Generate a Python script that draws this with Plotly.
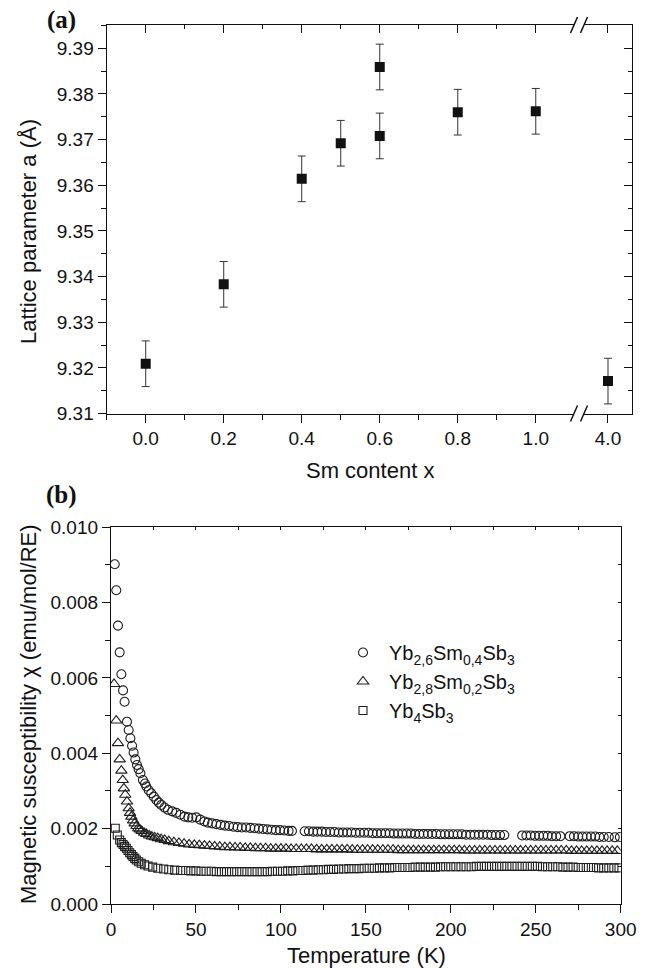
import plotly.graph_objects as go

# ---- panel (a): lattice parameter vs Sm content ----
sm_x = [0.0, 0.2, 0.4, 0.5, 0.6, 0.6, 0.8, 1.0]
lattice_a = [9.3209, 9.3383, 9.3614, 9.3692, 9.3859, 9.3708, 9.3760, 9.3762]
lattice_err = [0.005, 0.005, 0.005, 0.005, 0.005, 0.005, 0.005, 0.005]
# point beyond the axis break
sm_x_far = [4.0]
lattice_a_far = [9.3171]
lattice_err_far = [0.005]

# ---- panel (b): susceptibility vs temperature ----
T_circ = [2.2, 3.1, 4.1, 5.1, 6.1, 7.1, 8.0, 9.4, 10.4, 11.4,
          12.4, 13.3, 14.3, 15.3, 16.3, 17.3, 18.8, 20.0, 20.8, 22.2,
          23.7, 25.2, 26.7, 28.2, 29.6, 31.5, 33.5, 36.0, 38.4, 40.8,
          43.3, 45.5, 47.8, 50.2, 52.5, 55.0, 57.0, 59.5, 62.0, 64.5,
          67.0, 69.5, 72.0, 74.5, 77.0, 79.5, 82.0, 84.5, 87.0, 89.5,
          92.0, 94.5, 97.0, 99.5, 102.0, 104.5, 106.5,
          114.0, 116.5, 119.0, 121.5, 124.0, 126.5, 129.0, 131.5, 134.0, 136.5,
          139.0, 141.5, 144.0, 146.5, 149.0, 151.5, 154.0, 156.5, 159.0, 161.5,
          164.0, 166.5, 169.0, 171.5, 174.0, 176.5, 179.0, 181.5, 184.0, 186.5,
          189.0, 191.5, 194.0, 196.5, 199.0, 201.5, 204.0, 206.5, 209.0, 211.5,
          214.0, 216.5, 219.0, 221.5, 224.0, 226.5, 229.0, 231.5,
          242.0, 244.5, 247.0, 249.5, 252.0, 254.5, 257.0, 259.5, 262.0, 264.5,
          270.0, 272.5, 275.0, 277.5, 280.0, 282.5, 285.0, 287.5, 290.0, 293.0,
          296.5, 299.5]
chi_circ = [0.00902, 0.00833, 0.00739, 0.00668, 0.00610, 0.00567, 0.00537, 0.00484, 0.00462, 0.00440,
            0.00420, 0.00402, 0.00384, 0.00369, 0.00358, 0.00347, 0.00329, 0.00320, 0.00312, 0.00302,
            0.00294, 0.00285, 0.00276, 0.00269, 0.00263, 0.00256, 0.00250, 0.00246, 0.00242, 0.00237,
            0.00232, 0.00230, 0.00229, 0.00230, 0.00224, 0.00219, 0.00216, 0.00214, 0.00212, 0.00210,
            0.00208, 0.00207, 0.00205, 0.00204, 0.00203, 0.00203, 0.00202, 0.00201, 0.00200, 0.00199,
            0.00198, 0.00197, 0.00196, 0.00196, 0.00195, 0.00194, 0.00194,
            0.00193, 0.00193, 0.00192, 0.00192, 0.00192, 0.00191, 0.00191, 0.00191, 0.00190, 0.00190,
            0.00190, 0.00190, 0.00189, 0.00189, 0.00189, 0.00189, 0.00188, 0.00188, 0.00188, 0.00188,
            0.00188, 0.00187, 0.00187, 0.00187, 0.00187, 0.00187, 0.00186, 0.00186, 0.00186, 0.00186,
            0.00186, 0.00186, 0.00185, 0.00185, 0.00185, 0.00185, 0.00185, 0.00185, 0.00184, 0.00184,
            0.00184, 0.00184, 0.00184, 0.00184, 0.00183, 0.00183, 0.00183, 0.00183,
            0.00182, 0.00182, 0.00182, 0.00181, 0.00181, 0.00181, 0.00181, 0.00180, 0.00180, 0.00180,
            0.00180, 0.00180, 0.00179, 0.00179, 0.00179, 0.00179, 0.00179, 0.00178, 0.00178, 0.00178,
            0.00177, 0.00178]

T_tri = [1.8, 3.1, 4.1, 5.1, 6.1, 6.9, 7.6, 8.4, 9.4, 10.4,
         11.2, 12.0, 13.0, 13.9, 15.0, 16.0, 16.9, 18.0, 19.5, 20.8,
         22.5, 24.0, 25.7, 27.5, 29.5, 31.6, 34.0, 37.0, 40.0,
         43, 46, 49, 52, 55, 58, 61, 64, 67, 70,
         73, 76, 79, 82, 85, 88, 91, 94, 97, 100,
         103, 106, 109, 112, 115, 118, 121, 124, 127, 130,
         133, 136, 139, 142, 145, 148, 151, 154, 157, 160,
         163, 166, 169, 172, 175, 178, 181, 184, 187, 190,
         193, 196, 199, 202, 205, 208, 211, 214, 217, 220,
         223, 226, 229, 232, 235, 238, 241, 244, 247, 250,
         253, 256, 259, 262, 265, 268, 271, 274, 277, 280,
         283, 286, 289, 292, 295, 298]
chi_tri = [0.00584, 0.00487, 0.00427, 0.00384, 0.00354, 0.00329, 0.00307, 0.00290, 0.00272, 0.00254,
           0.00242, 0.00232, 0.00222, 0.00214, 0.00207, 0.00201, 0.00198, 0.00194, 0.00189, 0.00186,
           0.00182, 0.00179, 0.00177, 0.00175, 0.00172, 0.00170, 0.00167, 0.00164, 0.00162,
           0.00160, 0.00158, 0.00157, 0.00156, 0.00155, 0.00154, 0.00153, 0.00152, 0.00151, 0.00151,
           0.00150, 0.00150, 0.00149, 0.00149, 0.00148, 0.00148, 0.00148, 0.00147, 0.00147, 0.00147,
           0.00147, 0.00146, 0.00146, 0.00146, 0.00146, 0.00146, 0.00145, 0.00145, 0.00145, 0.00145,
           0.00145, 0.00145, 0.00145, 0.00144, 0.00144, 0.00144, 0.00144, 0.00144, 0.00144, 0.00144,
           0.00144, 0.00144, 0.00143, 0.00143, 0.00143, 0.00143, 0.00143, 0.00143, 0.00143, 0.00143,
           0.00143, 0.00143, 0.00143, 0.00143, 0.00143, 0.00142, 0.00142, 0.00142, 0.00142, 0.00142,
           0.00142, 0.00142, 0.00142, 0.00142, 0.00142, 0.00142, 0.00142, 0.00142, 0.00142, 0.00142,
           0.00142, 0.00142, 0.00142, 0.00142, 0.00142, 0.00142, 0.00141, 0.00141, 0.00141, 0.00141,
           0.00141, 0.00141, 0.00141, 0.00141, 0.00141, 0.00141]

T_sq = [2.5, 3.7, 5.1, 6.1, 7.1, 8.0, 9.0, 10.0, 11.0, 12.0,
        12.9, 14.0, 14.9, 16.3, 17.8, 19.8, 21.8, 24.5, 27.6, 31.0,
        34.0, 37.5, 41.0, 44.0, 47.0, 50.0,
        53, 56, 59, 62, 65, 68, 71, 74, 77, 80,
        83, 86, 89, 92, 95, 98, 101, 104, 107, 110,
        113, 116, 119, 122, 125, 128, 131, 134, 137, 140,
        143, 146, 149, 152, 155, 158, 161, 164, 167, 170,
        173, 176, 179, 182, 185, 188, 191, 194, 197, 200,
        203, 206, 209, 212, 215, 218, 221, 224, 227, 230,
        233, 236, 239, 242, 245, 248, 251, 254, 257, 260,
        263, 266, 269, 272, 275, 278, 281, 284, 287, 290,
        293, 296, 299]
chi_sq = [0.00201, 0.00183, 0.00170, 0.00163, 0.00158, 0.00153, 0.00148, 0.00142, 0.00136, 0.00131,
          0.00126, 0.00121, 0.00117, 0.00112, 0.00108, 0.00104, 0.00101, 0.00098, 0.00095, 0.00093,
          0.00091, 0.00090, 0.00089, 0.00089, 0.00088, 0.00088,
          0.00087, 0.00087, 0.00087, 0.00086, 0.00086, 0.00086, 0.00086, 0.00086, 0.00086, 0.00086,
          0.00086, 0.00086, 0.00086, 0.00086, 0.00087, 0.00087, 0.00087, 0.00088, 0.00088, 0.00089,
          0.00089, 0.00090, 0.00090, 0.00091, 0.00091, 0.00092, 0.00092, 0.00093, 0.00093, 0.00094,
          0.00094, 0.00094, 0.00095, 0.00095, 0.00095, 0.00096, 0.00096, 0.00096, 0.00097, 0.00097,
          0.00097, 0.00097, 0.00098, 0.00098, 0.00098, 0.00098, 0.00098, 0.00099, 0.00099, 0.00099,
          0.00099, 0.00099, 0.00099, 0.00099, 0.00100, 0.00100, 0.00100, 0.00100, 0.00100, 0.00100,
          0.00100, 0.00100, 0.00100, 0.00100, 0.00100, 0.00100, 0.00100, 0.00099, 0.00099, 0.00099,
          0.00099, 0.00098, 0.00098, 0.00098, 0.00097, 0.00097, 0.00097, 0.00097, 0.00096, 0.00096,
          0.00096, 0.00096, 0.00096]

names = ["Yb<sub>2,6</sub>Sm<sub>0,4</sub>Sb<sub>3</sub>",
         "Yb<sub>2,8</sub>Sm<sub>0,2</sub>Sb<sub>3</sub>",
         "Yb<sub>4</sub>Sb<sub>3</sub>"]

W, H = 654, 968
FONT = "Liberation Sans, Arial, sans-serif"
INK = "#111111"


def fx(p):  # pixel -> paper x
    return p / W


def fy(p):  # pixel -> paper y
    return 1 - p / H


fig = go.Figure()

err_style = dict(type="data", color="#333333", thickness=1, width=4)
sq_marker = dict(symbol="square", size=10, color=INK)

fig.add_trace(go.Scatter(x=sm_x, y=lattice_a, mode="markers", marker=sq_marker,
                         error_y=dict(array=lattice_err, **err_style),
                         xaxis="x", yaxis="y", showlegend=False))
fig.add_trace(go.Scatter(x=sm_x_far, y=lattice_a_far, mode="markers", marker=sq_marker,
                         error_y=dict(array=lattice_err_far, **err_style),
                         xaxis="x3", yaxis="y", showlegend=False))

series = [(T_circ, chi_circ, "circle-open", 9),
          (T_tri, chi_tri, "triangle-up-open", 10),
          (T_sq, chi_sq, "square-open", 8)]
for (t, chi, sym, size), name in zip(series, names):
    fig.add_trace(go.Scatter(x=t, y=chi, mode="markers", name=name, legendgroup=name,
                             marker=dict(symbol=sym, size=size, color="#1e1e1e",
                                         line=dict(width=1.1, color="#1e1e1e")),
                             xaxis="x2", yaxis="y2"))

# empty traces so the inward-tick overlay axes get drawn
for xa, ya in [("x4", "y"), ("x5", "y"), ("x3", "y3"), ("x6", "y2"), ("x2", "y4")]:
    fig.add_trace(go.Scatter(x=[], y=[], xaxis=xa, yaxis=ya, showlegend=False, hoverinfo="skip"))

tickfont = dict(family=FONT, size=19, color=INK)
base = dict(showgrid=False, zeroline=False, linecolor=INK, linewidth=1.3,
            tickcolor=INK, tickwidth=1.2, tickfont=tickfont)

xa_range = [-0.1, 1.098]
xb_range = [3.9384, 4.0624]
ya_range = [9.31, 9.3951]

fig.update_layout(
    width=W, height=H,
    margin=dict(l=0, r=0, t=0, b=0, autoexpand=False),
    paper_bgcolor="white", plot_bgcolor="white",
    xaxis=dict(base, domain=[fx(106.7), fx(574)], range=xa_range, anchor="y",
               tick0=0, dtick=0.2, tickformat=".1f", ticks="outside", ticklen=8,
               minor=dict(dtick=0.1, ticks="outside", ticklen=5, tickcolor=INK),
               showline=True, mirror=True),
    xaxis3=dict(base, domain=[fx(584), fx(632.3)], range=xb_range, anchor="y",
                tickmode="array", tickvals=[4.0], ticktext=["4.0"], ticks="outside",
                ticklen=8, showline=True, mirror=True),
    xaxis4=dict(base, overlaying="x", side="top", anchor="y", range=xa_range,
                tick0=0, dtick=0.2, ticks="inside", ticklen=8, showticklabels=False,
                minor=dict(dtick=0.1, ticks="inside", ticklen=4, tickcolor=INK)),
    xaxis5=dict(base, overlaying="x3", side="top", anchor="y", range=xb_range,
                tickmode="array", tickvals=[4.0], ticks="inside", ticklen=8,
                showticklabels=False),
    yaxis=dict(base, domain=[fy(413.5), fy(25)], range=ya_range, anchor="x",
               tick0=9.31, dtick=0.01, tickformat=".2f", ticks="outside", ticklen=8,
               minor=dict(dtick=0.005, ticks="outside", ticklen=5, tickcolor=INK),
               showline=True),
    yaxis3=dict(base, overlaying="y", side="right", anchor="x3", range=ya_range,
                tick0=9.31, dtick=0.01, ticks="inside", ticklen=8, showticklabels=False,
                minor=dict(dtick=0.005, ticks="inside", ticklen=4, tickcolor=INK),
                showline=True),
    xaxis2=dict(base, domain=[fx(111), fx(620.7)], range=[0, 300], anchor="y2",
                tick0=0, dtick=50, ticks="outside", ticklen=8,
                minor=dict(dtick=25, ticks="outside", ticklen=5, tickcolor=INK),
                showline=True, mirror=True),
    xaxis6=dict(base, overlaying="x2", side="top", anchor="y2", range=[0, 300],
                tick0=0, dtick=25, ticks="inside", ticklen=3, showticklabels=False),
    yaxis2=dict(base, domain=[fy(904), fy(527.3)], range=[0, 0.010], anchor="x2",
                tick0=0, dtick=0.002, tickformat=".3f", ticks="outside", ticklen=8,
                minor=dict(dtick=0.001, ticks="outside", ticklen=5, tickcolor=INK),
                showline=True, mirror=True),
    yaxis4=dict(base, overlaying="y2", side="right", anchor="x2", range=[0, 0.010],
                tick0=0, dtick=0.001, ticks="inside", ticklen=3, showticklabels=False),
    legend=dict(x=fx(337), y=fy(633), xanchor="left", yanchor="top", itemwidth=42,
                font=dict(family=FONT, size=20, color=INK), bgcolor="rgba(0,0,0,0)",
                traceorder="grouped", tracegroupgap=0),
    showlegend=True,
)

# axis break marks "//"
shapes = []
for cx in [574, 584]:
    for cy in [25, 413.5]:
        shapes.append(dict(type="line", xref="paper", yref="paper",
                           x0=fx(cx - 3.5), y0=fy(cy + 8), x1=fx(cx + 3.5), y1=fy(cy - 8),
                           line=dict(color=INK, width=1.5)))
fig.update_layout(shapes=shapes)

title_font = dict(family=FONT, size=22, color=INK)
panel_font = dict(family="Liberation Serif, Times New Roman, serif", size=25, color=INK)
ann = [
    dict(text="<b>(a)</b>", x=fx(61), y=fy(20), font=panel_font),
    dict(text="<b>(b)</b>", x=fx(61), y=fy(495), font=panel_font),
    dict(text="Sm content x", x=fx(370), y=fy(470), font=title_font),
    dict(text="Temperature (K)", x=fx(366), y=fy(955), font=title_font),
    dict(text="Lattice parameter a (Å)", x=fx(29), y=fy(232), font=title_font, textangle=-90),
    dict(text="Magnetic susceptibility χ (emu/mol/RE)", x=fx(28), y=fy(714),
         font=title_font, textangle=-90),
]
for a in ann:
    fig.add_annotation(xref="paper", yref="paper", showarrow=False,
                       xanchor="center", yanchor="middle", **a)

# drop the default 8px body margin so the figure sits at the page corner
fig.write_html("out.html", config={"displayModeBar": False},
               post_script="document.body.style.margin='0';document.body.style.overflow='hidden';")
